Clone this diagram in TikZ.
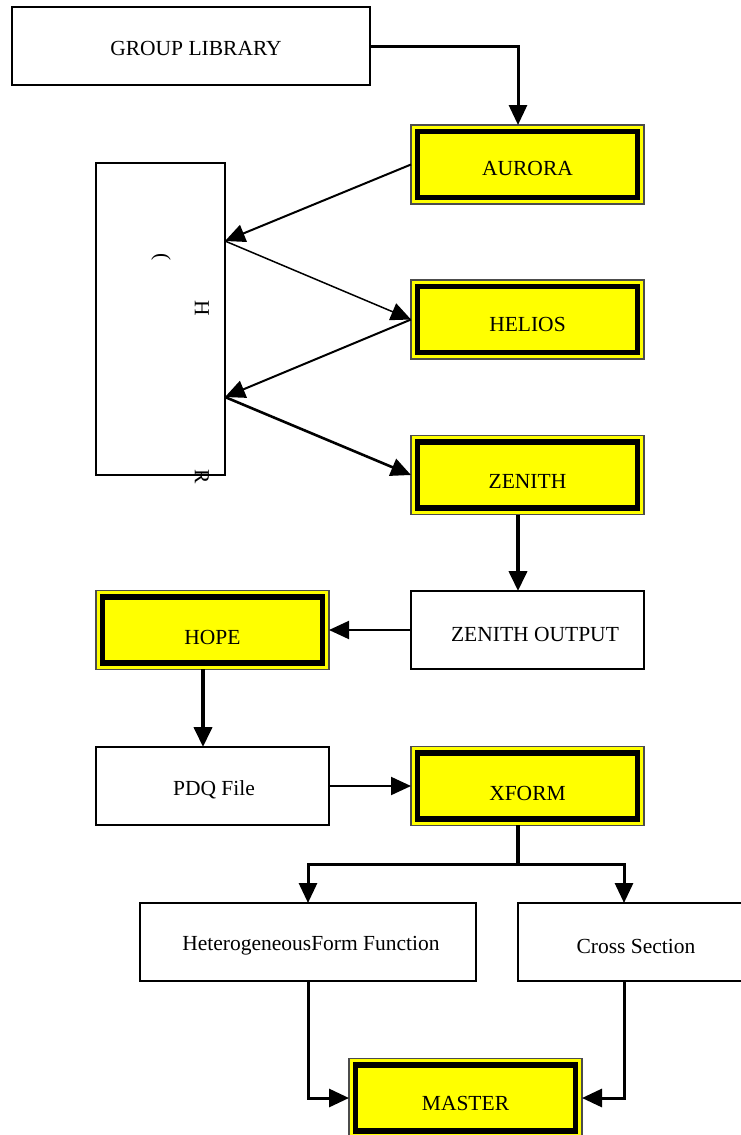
\documentclass[tikz,border=0pt]{standalone}
\usepackage{fontspec}
\setmainfont{Liberation Serif}
\usetikzlibrary{arrows.meta}
\definecolor{ylw}{RGB}{255,255,0}
\tikzset{
  plainbox/.style={draw=black, line width=1.2pt, fill=white, outer sep=0pt, inner sep=0pt},
  ybox/.style={draw=black!70, line width=1.2pt, fill=ylw, outer sep=0pt, inner sep=0pt, minimum width=233, minimum height=79},
  lbl/.style={inner sep=0pt, font=\fontsize{21.5}{25}\selectfont},
  inner/.style={line width=5.5pt},
  conn/.style={-{Triangle[length=20pt,width=18pt]}, line width=2pt},
  thinconn/.style={-{Triangle[length=20pt,width=18pt]}, line width=1.5pt},
  thickconn/.style={-{Triangle[length=20pt,width=18pt]}, line width=4pt},
  vtext/.style={rotate=-90, font=\fontsize{21.5}{25}\selectfont, inner sep=0pt}
}
\newcommand{\yb}[5]{%
  \node[ybox] (#1) at (#2,#3) {};
  \draw[inner] ([shift={(6.5,6.5)}]#1.north west) rectangle ([shift={(-6.5,-6.5)}]#1.south east);
  \node[lbl] (#1-t) at ([yshift=#5]#1.center) {#4};
}
\begin{document}
\begin{tikzpicture}[x=1pt,y=-1pt]
\useasboundingbox (0,0) rectangle (741,1135);
% plain boxes
\node[plainbox, minimum width=358, minimum height=78] (grp) at (191,46) {};
\node[lbl] (grp-t) at (196,48) {GROUP LIBRARY};
\node[plainbox, minimum width=129, minimum height=312] (side) at (160.5,319) {};
\node[vtext] (s1) at (161,257) {(};
\node[vtext] (s2) at (202,308) {H};
\node[vtext] (s3) at (202,477) {R};
\node[plainbox, minimum width=233, minimum height=78] (zout) at (527.5,630) {};
\node[lbl] (zout-t) at (535,634) {ZENITH OUTPUT};
\node[plainbox, minimum width=233, minimum height=78] (pdq) at (212.5,786) {};
\node[lbl] (pdq-t) at (214,790) {PDQ File};
\node[plainbox, minimum width=336, minimum height=78] (het) at (308,942) {};
\node[lbl] (het-t) at (311,946) {HeterogeneousForm Function};
\node[plainbox, minimum width=240, minimum height=78] (cross) at (638,942) {};
\node[lbl] (cross-t) at (636,946) {Cross Section};
% yellow boxes
\yb{aurora}{527.5}{164.5}{AURORA}{-4pt}
\yb{helios}{527.5}{319.5}{HELIOS}{-5pt}
\yb{zenith}{527.5}{475}{ZENITH}{-6pt}
\yb{hope}{212.5}{630}{HOPE}{-7pt}
\yb{xform}{527.5}{786}{XFORM}{-7pt}
\yb{master}{465.5}{1098}{MASTER}{-5pt}
% connectors
\coordinate (c1) at (518,46);
\draw[thickconn, line width=3pt] (grp.east |- 0,46) -- (c1) -- (518,125);
\draw[conn] (aurora.west) -- (225,241);
\draw[thinconn] (225,241) -- (helios.west);
\draw[conn] (helios.west) -- (225,397);
\draw[conn, line width=2.6pt] (225,397) -- (zenith.west);
\draw[thickconn] (zenith.south -| 518,0) -- (518,591);
\draw[conn] (zout.west) -- (hope.east);
\draw[thickconn] (203,669) -- (203,747);
\draw[conn] (pdq.east) -- (xform.west);
\coordinate (split) at (518,864);
\draw[line width=4pt] (518,825) -- (split);
\draw[conn, line width=3pt] (split) -| (308,903);
\draw[conn, line width=3pt] (split) -| (624,903);
\draw[conn, line width=3pt] (308,981) |- (master.west);
\draw[conn, line width=3pt] (624,981) |- (master.east);
\end{tikzpicture}
\end{document}
